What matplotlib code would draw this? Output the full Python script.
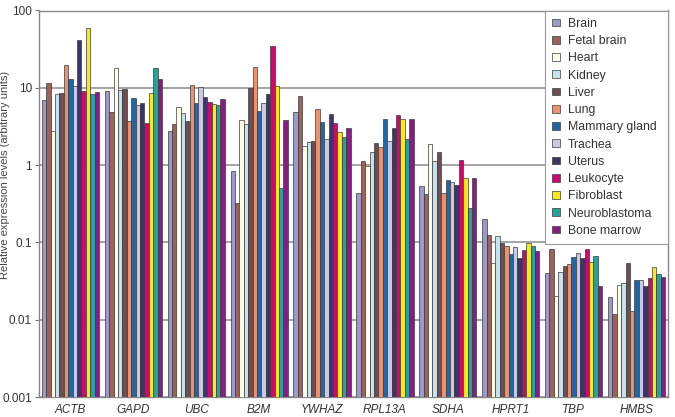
import matplotlib
matplotlib.use("Agg")
import matplotlib.pyplot as plt
import numpy as np
from matplotlib.ticker import FixedLocator, FixedFormatter, NullLocator

plt.rcParams['font.family'] = ['Liberation Sans', 'DejaVu Sans']

genes = ["ACTB", "GAPD", "UBC", "B2M", "YWHAZ", "RPL13A", "SDHA", "HPRT1", "TBP", "HMBS"]
tissues = ["Brain", "Fetal brain", "Heart", "Kidney", "Liver", "Lung", "Mammary gland",
           "Trachea", "Uterus", "Leukocyte", "Fibroblast", "Neuroblastoma", "Bone marrow"]
colors = ["#9a9acb", "#a0605c", "#fffde6", "#c4e2f0", "#6e4e50", "#ee906c", "#1f68a6",
          "#c9c9e6", "#3c3668", "#d1066e", "#fbe914", "#22a39e", "#8a1c88"]

# values[tissue][gene]
brain        = [6.9, 9.1, 2.75, 0.84, 4.9, 0.43, 0.54, 0.20, 0.039, 0.0186]
fetal_brain  = [11.6, 4.9, 3.4, 0.32, 7.8, 1.13, 0.42, 0.124, 0.082, 0.0107]
heart        = [2.8, 17.8, 5.6, 3.8, 1.76, 0.97, 1.9, 0.053, 0.019, 0.027]
kidney       = [8.3, 9.3, 4.7, 3.4, 2.0, 1.49, 1.14, 0.12, 0.040, 0.029]
liver        = [8.5, 9.6, 3.7, 9.8, 2.04, 1.94, 1.49, 0.097, 0.048, 0.053]
lung         = [20.0, 3.7, 10.8, 18.4, 5.3, 1.69, 0.44, 0.088, 0.052, 0.012]
mammary      = [12.9, 7.4, 6.3, 5.0, 3.6, 3.9, 0.64, 0.070, 0.063, 0.032]
trachea      = [10.6, 6.0, 10.3, 6.4, 2.15, 2.05, 0.61, 0.086, 0.073, 0.032]
uterus       = [41.0, 6.3, 7.6, 8.3, 4.6, 3.0, 0.56, 0.062, 0.062, 0.026]
leukocyte    = [9.1, 3.5, 6.6, 34.6, 3.5, 4.4, 1.16, 0.078, 0.082, 0.034]
fibroblast   = [60.0, 8.5, 6.1, 10.6, 2.7, 3.9, 0.67, 0.097, 0.055, 0.047]
neuroblast   = [8.3, 17.8, 6.0, 0.51, 2.3, 2.2, 0.28, 0.090, 0.066, 0.038]
bone_marrow  = [8.9, 12.9, 7.1, 3.8, 3.0, 3.9, 0.69, 0.076, 0.026, 0.035]

series = [brain, fetal_brain, heart, kidney, liver, lung, mammary, trachea, uterus,
          leukocyte, fibroblast, neuroblast, bone_marrow]

fig = plt.figure(figsize=(6.75, 4.17), dpi=100)
ax = fig.add_axes([39/675, 20/417, 629/675, 386.5/417])

n = len(tissues)
group_w = 0.91
bw = group_w / n
x = np.arange(len(genes))
for i, (name, vals, c) in enumerate(zip(tissues, series, colors)):
    offs = -group_w/2 + bw*(i + 0.5)
    ax.bar(x + offs, vals, width=bw, bottom=0.001, color=c, edgecolor="#3a3a3a",
           linewidth=0.5, label=name, zorder=3)

ax.set_yscale("log")
ax.set_ylim(0.001, 100)
ax.set_xlim(-0.5, len(genes) - 0.5)
ax.yaxis.set_major_locator(FixedLocator([0.001, 0.01, 0.1, 1, 10, 100]))
ax.yaxis.set_major_formatter(FixedFormatter(["0.001", "0.01", "0.1", "1", "10", "100"]))
ax.yaxis.set_minor_locator(NullLocator())
ax.set_xticks(x)
ax.set_xticklabels(genes, fontstyle="italic", fontsize=8.5, color="#333333")
ax.tick_params(axis="x", length=0, pad=5)
ax.tick_params(axis="y", length=3, width=0.8, color="#777777", labelsize=8.5,
               labelcolor="#333333", pad=2)
for s in ax.spines.values():
    s.set_color("#888888")
    s.set_linewidth(1.0)
ax.grid(axis="y", color="#8c8c8c", linewidth=1.1, zorder=0)
ax.set_axisbelow(True)

leg_left = (545 - 39) / 629
leg = ax.legend(loc="upper left", bbox_to_anchor=(leg_left, 0.0, 1.0 - leg_left, 1.0),
                mode="expand", borderaxespad=0,
                fontsize=8.8, frameon=True, fancybox=False, edgecolor="#999999",
                handlelength=0.6, handleheight=0.6, handletextpad=0.7,
                labelspacing=0.43, borderpad=0.6)
leg.get_frame().set_linewidth(0.8)
leg.get_frame().set_alpha(1.0)
leg.set_zorder(5)
for t in leg.get_texts():
    t.set_color("#333333")

fig.text(0.008, 0.58, "Relative expression levels (arbitrary units)", rotation=90,
         ha="center", va="center", fontsize=8, color="#444444")

fig.savefig("out.png", dpi=100)
